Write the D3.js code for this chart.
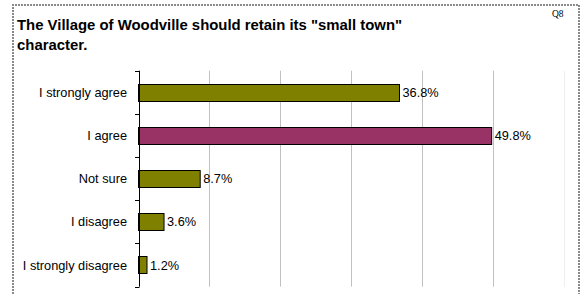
<!DOCTYPE html>
<html><head><meta charset="utf-8">
<script src="https://cdn.jsdelivr.net/npm/d3@7"></script>
<style>body{margin:0;background:#fff}svg{display:block}</style>
</head><body>
<svg id="c" width="581" height="294"></svg>
<script>
const categories = ["I strongly agree","I agree","Not sure","I disagree","I strongly disagree"];
const values = [36.8, 49.8, 8.7, 3.6, 1.2];
const valueLabels = ["36.8%","49.8%","8.7%","3.6%","1.2%"];
const gridTicks = [10,20,30,40,50,60];
const titleLines = ['The Village of Woodville should retain its "small town"', 'character.'];
const highlight = "I agree";

const svg = d3.select("#c");
// frame
svg.append("path").attr("d","M13,294 V5 H579 V294").attr("fill","none")
  .attr("stroke","#8a8a8a").attr("stroke-width",2).attr("stroke-dasharray","2,1");

svg.append("text").attr("x",552).attr("y",17).attr("font-family","Liberation Serif, Times New Roman, serif")
  .attr("font-size",9.5).attr("fill","#000").text("Q8");

svg.selectAll("text.title").data(titleLines).join("text").attr("class","title")
  .attr("x",17).attr("y",(d,i)=>29.5+i*20)
  .attr("font-family","Liberation Sans, Arial, sans-serif").attr("font-weight","bold")
  .attr("font-size",14.9).attr("fill","#000").text(d=>d);

const x = d3.scaleLinear().domain([0,60]).range([138.5,564]);
const y = d3.scaleBand().domain(categories).range([70.7,286.7]).paddingInner(0.6).paddingOuter(0.3);

// grid
svg.selectAll("line.grid").data(gridTicks).join("line").attr("class","grid")
  .attr("x1",d=>Math.round(x(d))+0.5).attr("x2",d=>Math.round(x(d))+0.5)
  .attr("y1",y.range()[0]).attr("y2",y.range()[1])
  .attr("stroke",d=>d===60?"#eeeeee":"#c0c0c0").attr("stroke-width",1);

// bars
svg.selectAll("rect.bar").data(categories).join("rect").attr("class","bar")
  .attr("x",x(0)).attr("y",d=>Math.round(y(d))+0.5)
  .attr("width",(d,i)=>x(values[i])-x(0)).attr("height",Math.round(y.bandwidth()))
  .attr("fill",d=>d===highlight?"#993366":"#808000")
  .attr("stroke","#000").attr("stroke-width",1);

// axis line and ticks
const step = y.step();
const gap = (step - y.bandwidth())/2;
const tickYs = categories.map(c=>y(c)-gap).concat([y(categories[categories.length-1])+y.bandwidth()+gap]);
svg.append("line").attr("x1",Math.round(x(0))+0.5).attr("x2",Math.round(x(0))+0.5)
  .attr("y1",y.range()[0]).attr("y2",y.range()[1]).attr("stroke","#000");
svg.selectAll("line.tick").data(tickYs).join("line").attr("class","tick")
  .attr("x1",Math.round(x(0))-4).attr("x2",Math.round(x(0))+0.5)
  .attr("y1",d=>Math.round(d)+0.5).attr("y2",d=>Math.round(d)+0.5).attr("stroke","#000");

// category labels
svg.selectAll("text.cat").data(categories).join("text").attr("class","cat")
  .attr("x",127).attr("y",d=>y(d)+y.bandwidth()/2).attr("dy","0.35em")
  .attr("text-anchor","end").attr("font-family","Liberation Sans, Arial, sans-serif")
  .attr("font-size",12.75).attr("fill","#000").text(d=>d);

// value labels
svg.selectAll("text.val").data(categories).join("text").attr("class","val")
  .attr("x",(d,i)=>x(values[i])+3).attr("y",d=>y(d)+y.bandwidth()/2).attr("dy","0.35em")
  .attr("font-family","Liberation Sans, Arial, sans-serif")
  .attr("font-size",12.75).attr("fill","#000").text((d,i)=>valueLabels[i]);
</script>
</body></html>
